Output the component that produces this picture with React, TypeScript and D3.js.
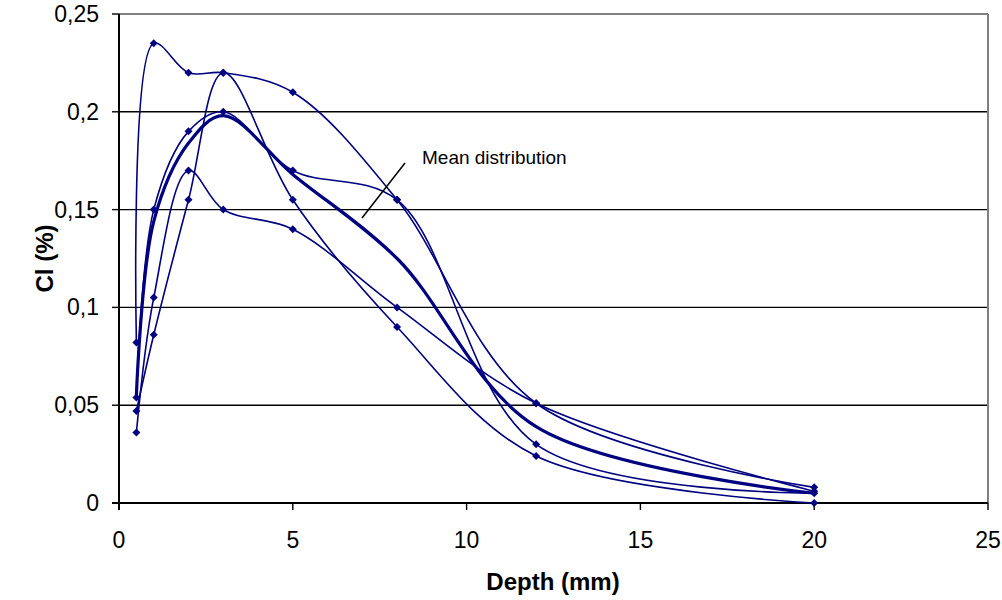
import React from "react";
import * as d3 from "d3";

const depths = [0.5, 1, 2, 3, 5, 8, 12, 20];
const profileA = [0.082, 0.235, 0.22, 0.22, 0.21, 0.155, 0.051, 0.008];
const profileB = [0.047, 0.086, 0.155, 0.22, 0.155, 0.09, 0.024, 0.0];
const profileC = [0.036, 0.105, 0.17, 0.15, 0.14, 0.1, 0.051, 0.006];
const profileD = [0.054, 0.15, 0.19, 0.2, 0.17, 0.155, 0.03, 0.005];
const meanValues = [0.055, 0.144, 0.184, 0.198, 0.168, 0.125, 0.039, 0.005];
const xTicks = [0, 5, 10, 15, 20, 25];
const yTicks = [0, 0.05, 0.1, 0.15, 0.2, 0.25];
const yTickLabels = ["0", "0,05", "0,1", "0,15", "0,2", "0,25"];

const W = 1002;
const H = 600;
const x = d3.scaleLinear().domain([0, 25]).range([119, 988]);
const y = d3.scaleLinear().domain([0, 0.25]).range([503, 14]);
const navy = "#000080";
const font = "Liberation Sans, Arial, sans-serif";

const line = d3
  .line<number>()
  .x((_, i) => x(depths[i]))
  .y((v) => y(v))
  .curve(d3.curveCatmullRom.alpha(0.5));

const marker = d3.symbol(d3.symbolSquare, 32)() as string;

export default function App() {
  const profiles = [profileA, profileB, profileC, profileD];
  return (
    <svg
      width={W}
      height={H}
      style={{ position: "absolute", left: 0, top: 0, background: "#fff" }}
    >
      {/* gridlines */}
      {yTicks.slice(1, -1).map((t) => (
        <line key={t} x1={x(0)} x2={x(25)} y1={y(t)} y2={y(t)} stroke="#000" strokeWidth={1.4} />
      ))}
      {/* plot border top/right */}
      <line x1={x(0)} x2={x(25)} y1={y(0.25)} y2={y(0.25)} stroke="#808080" strokeWidth={2} />
      <line x1={x(25)} x2={x(25)} y1={y(0.25)} y2={y(0)} stroke="#808080" strokeWidth={2} />
      {/* axes */}
      <line x1={x(0)} x2={x(0)} y1={y(0.25)} y2={y(0) + 7} stroke="#000" strokeWidth={2} />
      <line x1={x(0) - 7} x2={x(25)} y1={y(0)} y2={y(0)} stroke="#000" strokeWidth={2} />
      {yTicks.map((t, i) => (
        <g key={t}>
          <line x1={x(0) - 7} x2={x(0)} y1={y(t)} y2={y(t)} stroke="#000" strokeWidth={1.4} />
          <text
            x={x(0) - 20}
            y={y(t)}
            dy="0.35em"
            textAnchor="end"
            fontFamily={font}
            fontSize={23}
            fill="#000"
          >
            {yTickLabels[i]}
          </text>
        </g>
      ))}
      {xTicks.map((t) => (
        <g key={t}>
          <line x1={x(t)} x2={x(t)} y1={y(0)} y2={y(0) + 7} stroke="#000" strokeWidth={1.4} />
          <text
            x={x(t)}
            y={y(0) + 37}
            dy="0.35em"
            textAnchor="middle"
            fontFamily={font}
            fontSize={23}
            fill="#000"
          >
            {t}
          </text>
        </g>
      ))}
      {/* axis titles */}
      <text
        x={553}
        y={582}
        dy="0.35em"
        textAnchor="middle"
        fontFamily={font}
        fontSize={24}
        fontWeight="bold"
      >
        Depth (mm)
      </text>
      <text
        transform={`translate(45,${y(0.125)}) rotate(-90)`}
        dy="0.35em"
        textAnchor="middle"
        fontFamily={font}
        fontSize={24}
        fontWeight="bold"
      >
        Cl (%)
      </text>
      {/* profiles */}
      {profiles.map((p, k) => (
        <g key={k}>
          <path d={line(p) || ""} fill="none" stroke={navy} strokeWidth={1.6} />
          {p.map((v, i) => (
            <path
              key={i}
              d={marker}
              transform={`translate(${x(depths[i])},${y(v)}) rotate(45)`}
              fill={navy}
            />
          ))}
        </g>
      ))}
      {/* mean */}
      <path d={line(meanValues) || ""} fill="none" stroke={navy} strokeWidth={3.2} />
      {/* annotation */}
      <line x1={405} y1={163} x2={362} y2={218} stroke="#000" strokeWidth={1.5} />
      <text x={422} y={157} dy="0.35em" fontFamily={font} fontSize={19} fill="#000">
        Mean distribution
      </text>
    </svg>
  );
}
